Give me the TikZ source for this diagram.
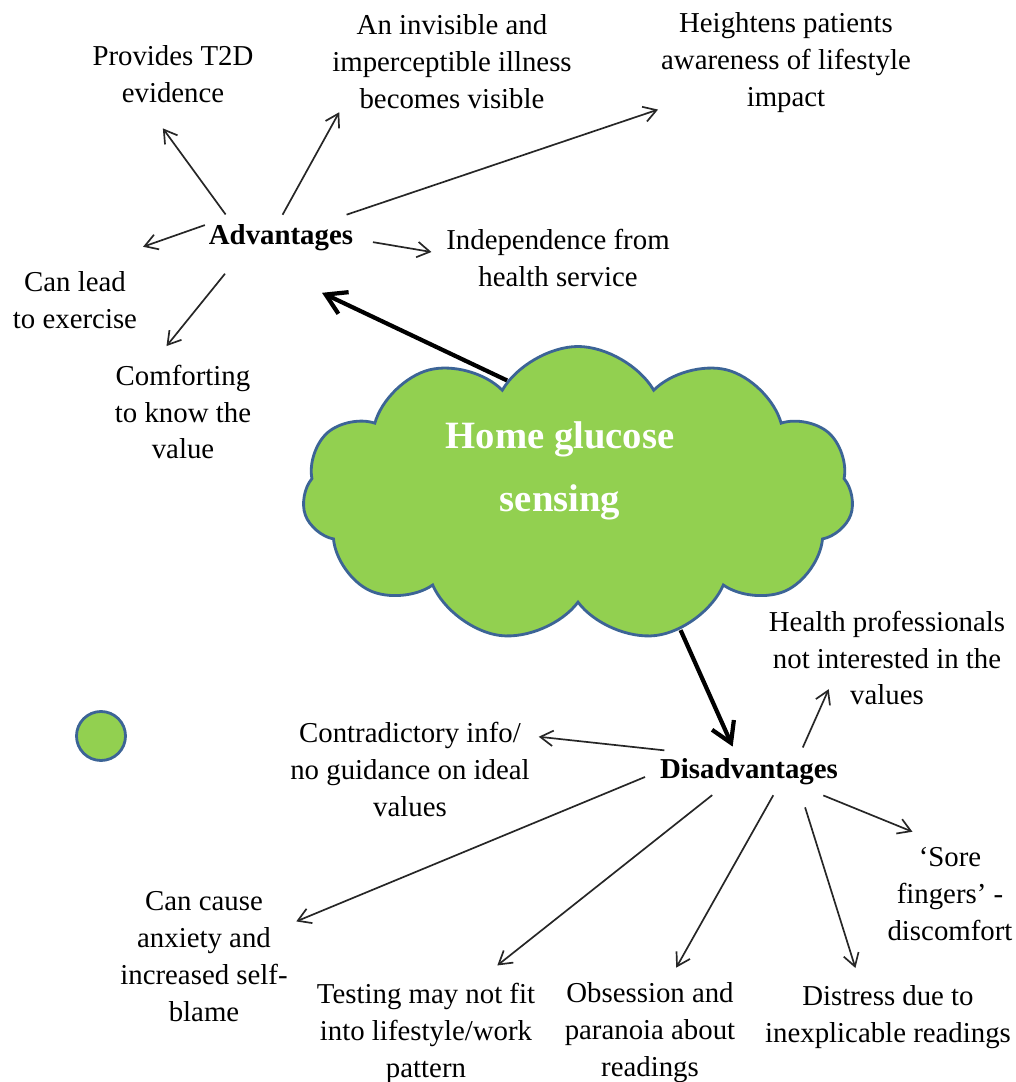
\documentclass[tikz,border=0pt]{standalone}
\usepackage{fontspec}
\setmainfont{Liberation Serif}
\usetikzlibrary{shapes.symbols,arrows.meta}
\definecolor{cloudgreen}{RGB}{146,208,80}
\definecolor{cloudblue}{RGB}{60,100,150}
\newdimen\pxu \pxu=0.025cm

\begin{document}
\begin{tikzpicture}[x=0.025cm,y=-0.025cm,
   every node/.style={align=center,font=\fontsize{20.5}{26.3}\selectfont,inner sep=2pt},
   head/.style={font=\fontsize{20.5}{26.3}\selectfont\bfseries},
   arr/.style={-{Straight Barb[length=9pt,width=11pt]},line width=1.2pt,black!85},
   bigarr/.style={-{Straight Barb[length=14pt,width=17pt]},line width=3pt}]

\path[use as bounding box,fill=white] (0,0) rectangle (1016,1082);

% the cloud
\node[cloud,cloud puffs=11,cloud puff arc=120,draw=cloudblue,fill=cloudgreen,
      line width=2pt,minimum width=551\pxu,minimum height=295\pxu,inner sep=0] (cloud) at (578,494) {};
\node[font=\fontsize{27.5}{45}\selectfont\bfseries,text=white] (hgs) at (560,471) {Home glucose\\sensing};
\node[circle,draw=cloudblue,fill=cloudgreen,line width=2pt,minimum size=49\pxu,inner sep=0] (dot) at (101,736) {};

% advantages
\node[head] (adv) at (281,238) {Advantages};
\node (prov) at (173,74) {Provides T2D\\evidence};
\node (invis) at (452,62) {An invisible and\\imperceptible illness\\becomes visible};
\node (heigh) at (786,63) {Heightens patients\\awareness of lifestyle\\impact};
\node (indep) at (558,258) {Independence from\\health service};
\node (canlead) at (75,300) {Can lead\\to exercise};
\node (comfort) at (183,412) {Comforting\\to know the\\value};

% disadvantages
\node[head] (dis) at (749,772) {Disadvantages};
\node (health) at (887,658) {Health professionals\\not interested in the\\values};
\node (contra) at (410,769) {Contradictory info/\\no guidance on ideal\\values};
\node (sore) at (950,894) {‘Sore\\fingers’ -\\discomfort};
\node (anx) at (204,957) {Can cause\\anxiety and\\increased self-\\blame};
\node (test) at (426,1033) {Testing may not fit\\into lifestyle/work\\pattern};
\node (obs) at (650,1033) {Obsession and\\paranoia about\\readings};
\node (distress) at (888,1017) {Distress due to\\inexplicable readings};

\draw[bigarr,shorten >=90\pxu] (cloud.122) -- (adv.202);
\draw[bigarr,shorten >=10\pxu] (cloud.-53) -- (dis.127);

\draw[arr,shorten <=9\pxu,shorten >=28\pxu] (adv.162) -- (prov.-130);
\draw[arr,shorten <=8\pxu] (adv.98) -- (invis.204.5);
\draw[arr,shorten <=22\pxu] (adv.20) -- (heigh.200);
\draw[arr,shorten <=17\pxu,shorten >=12\pxu] (adv.-1) -- (indep.178.5);
\draw[arr,shorten <=1\pxu,shorten >=65\pxu] (adv.170) -- (canlead.78);
\draw[arr,shorten <=25\pxu,shorten >=20\pxu] (adv.202) -- (comfort.120.5);

\draw[arr,shorten <=9\pxu,shorten >=-21\pxu] (dis.18) -- (health.217);
\draw[arr,shorten <=50\pxu,shorten >=6\pxu] (dis.155) -- (contra.15);
\draw[arr,shorten <=13\pxu,shorten >=6\pxu] (dis.180) -- (anx.21);
\draw[arr,shorten <=11\pxu,shorten >=23\pxu] (dis.210) -- (test.45.6);
\draw[arr,shorten <=8\pxu,shorten >=14\pxu] (dis.-30) -- (obs.70.5);
\draw[arr,shorten <=20\pxu,shorten >=15\pxu] (dis.-18.7) -- (distress.129.4);
\draw[arr,shorten <=19\pxu,shorten >=33\pxu] (dis.-16.6) -- (sore.98.7);

\end{tikzpicture}
\end{document}
